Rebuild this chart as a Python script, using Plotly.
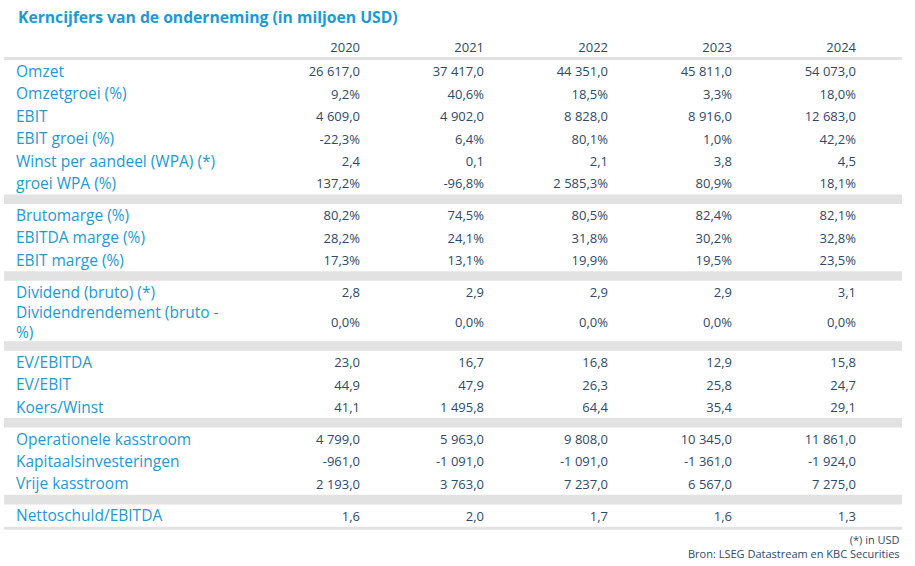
import plotly.graph_objects as go

title = 'Kerncijfers van de onderneming (in miljoen USD)'
years = ['2020', '2021', '2022', '2023', '2024']

labels = ['Omzet', 'Omzetgroei (%)', 'EBIT', 'EBIT groei (%)', 'Winst per aandeel (WPA) (*)',
          'groei WPA (%)',
          'Brutomarge (%)', 'EBITDA marge (%)', 'EBIT marge (%)',
          'Dividend (bruto) (*)', 'Dividendrendement (bruto -<br>%)',
          'EV/EBITDA', 'EV/EBIT', 'Koers/Winst',
          'Operationele kasstroom', 'Kapitaalsinvesteringen', 'Vrije kasstroom',
          'Nettoschuld/EBITDA']
is_pct = [False, True, False, True, False, True,
          True, True, True,
          False, True,
          False, False, False,
          False, False, False,
          False]
group_sizes = [6, 3, 2, 3, 3, 1]

v2020 = [26617.0, 9.2, 4609.0, -22.3, 2.4, 137.2, 80.2, 28.2, 17.3, 2.8, 0.0,
         23.0, 44.9, 41.1, 4799.0, -961.0, 2193.0, 1.6]
v2021 = [37417.0, 40.6, 4902.0, 6.4, 0.1, -96.8, 74.5, 24.1, 13.1, 2.9, 0.0,
         16.7, 47.9, 1495.8, 5963.0, -1091.0, 3763.0, 2.0]
v2022 = [44351.0, 18.5, 8828.0, 80.1, 2.1, 2585.3, 80.5, 31.8, 19.9, 2.9, 0.0,
         16.8, 26.3, 64.4, 9808.0, -1091.0, 7237.0, 1.7]
v2023 = [45811.0, 3.3, 8916.0, 1.0, 3.8, 80.9, 82.4, 30.2, 19.5, 2.9, 0.0,
         12.9, 25.8, 35.4, 10345.0, -1361.0, 6567.0, 1.6]
v2024 = [54073.0, 18.0, 12683.0, 42.2, 4.5, 18.1, 82.1, 32.8, 23.5, 3.1, 0.0,
         15.8, 24.7, 29.1, 11861.0, -1924.0, 7275.0, 1.3]
columns = [v2020, v2021, v2022, v2023, v2024]

notes = ['(*) in USD', 'Bron: LSEG Datastream en KBC Securities']

BLUE = '#1b9ad6'
NAVY = '#2d4a6b'
GREY = '#e2e2e2'
FONT = 'Open Sans'


def fmt(v, pct):
    s = f'{v:,.1f}'.replace(',', ' ').replace('.', ',')
    return s + '%' if pct else s


# row geometry (pixels, y grows downwards)
row_h = 22.4
tall_h = 38.0
band_h = 9.6
top = 60.0
dy = 2             # plotly puts 'middle' text a bit high
row_y = []
bands = []
y = top
i = 0
for g, n in enumerate(group_sizes):
    for _ in range(n):
        h = tall_h if '<br>' in labels[i] else row_h
        row_y.append(y + h / 2)
        y += h
        i += 1
    if g < len(group_sizes) - 1:
        bands.append((y, y + band_h))
        y += band_h
bottom = y
text_y = [r + dy for r in row_y]

col_x = [360 + 124 * k for k in range(len(years))]

fig = go.Figure()
fig.add_trace(go.Scatter(x=[16] * len(labels), y=text_y, text=labels, mode='text',
                         textposition='middle right',
                         textfont=dict(family=FONT, size=15.5, color=BLUE),
                         hoverinfo='skip'))
for k, col in enumerate(columns):
    fig.add_trace(go.Scatter(x=[col_x[k]] * len(col), y=text_y,
                             text=[fmt(v, p) for v, p in zip(col, is_pct)],
                             mode='text', textposition='middle left',
                             textfont=dict(family=FONT, size=13, color=NAVY),
                             hoverinfo='skip'))
fig.add_trace(go.Scatter(x=col_x, y=[47 + dy] * len(years), text=years, mode='text',
                         textposition='middle left',
                         textfont=dict(family=FONT, size=13, color=NAVY),
                         hoverinfo='skip'))

shapes = [dict(type='rect', x0=4, x1=902, y0=57, y1=60, fillcolor=GREY, line_width=0, layer='below'),
          dict(type='rect', x0=4, x1=902, y0=bottom, y1=bottom + 3, fillcolor=GREY,
               line_width=0, layer='below')]
for y0, y1 in bands:
    shapes.append(dict(type='rect', x0=4, x1=902, y0=y0, y1=y1, fillcolor=GREY,
                       line_width=0, layer='below'))

fig.update_layout(
    width=915, height=566,
    margin=dict(l=0, r=0, t=0, b=0),
    paper_bgcolor='white', plot_bgcolor='white',
    showlegend=False,
    shapes=shapes,
    xaxis=dict(range=[0, 915], visible=False, fixedrange=True),
    yaxis=dict(range=[566, 0], visible=False, fixedrange=True),
    annotations=[
        dict(text='<b>' + title + '</b>', x=16, y=17, xref='x', yref='y',
             xanchor='left', yanchor='middle', showarrow=False,
             font=dict(family=FONT, size=15.7, color=BLUE)),
        dict(text='<br>'.join(notes), x=902, y=546, xref='x', yref='y',
             xanchor='right', yanchor='middle', align='right', showarrow=False,
             font=dict(family=FONT, size=11, color=NAVY)),
    ],
)
fig.write_html('out.html', config={'displayModeBar': False},
               post_script="document.body.style.margin='0';")
